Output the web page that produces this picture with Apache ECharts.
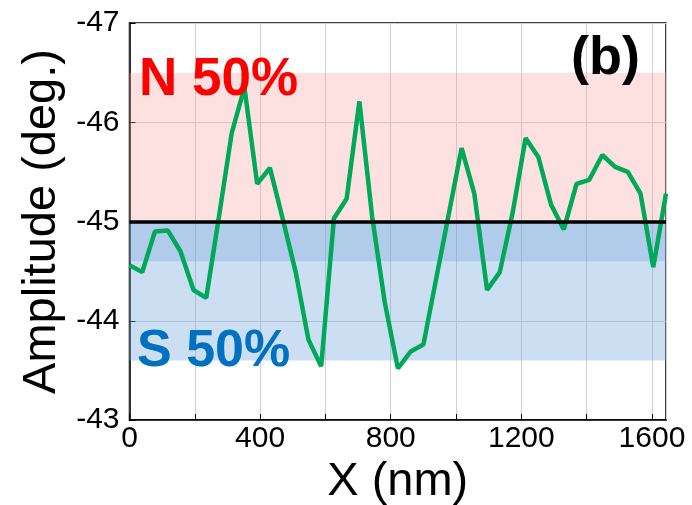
<!DOCTYPE html>
<html>
<head>
<meta charset="utf-8">
<script src="https://cdn.jsdelivr.net/npm/echarts@6/dist/echarts.min.js"></script>
<style>html,body{margin:0;padding:0;background:#fff;}#c{width:692px;height:505px;}</style>
</head>
<body>
<div id="c"></div>
<script>
var xValues = [0, 39, 78, 117, 156, 196, 235, 274, 313, 352, 391, 430, 469, 509, 548, 587, 626, 665, 704, 743, 782, 822, 861, 900, 939, 978, 1017, 1056, 1095, 1134, 1174, 1213, 1252, 1291, 1330, 1369, 1408, 1448, 1487, 1526, 1565, 1604, 1643];
var amplitude = [-44.56, -44.49, -44.90, -44.91, -44.70, -44.31, -44.23, -45.05, -45.89, -46.35, -45.38, -45.54, -45.03, -44.49, -43.81, -43.54, -45.03, -45.23, -46.21, -45.05, -44.18, -43.52, -43.69, -43.76, -44.42, -45.08, -45.74, -45.28, -44.31, -44.49, -45.10, -45.84, -45.65, -45.17, -44.92, -45.38, -45.42, -45.67, -45.55, -45.50, -45.28, -44.54, -45.28];
var nBand = [-46.5, -45];
var sBand = [-45, -43.6];
var sBandInner = [-45, -44.6];
var refLine = -45;
var xTicks = [0, 400, 800, 1200, 1600];

var pts = xValues.map(function (x, i) { return [x, amplitude[i]]; });
var FONT = 'Liberation Sans, Arial, sans-serif';

var chart = echarts.init(document.getElementById('c'), null, {renderer: 'canvas'});
chart.setOption({
  animation: false,
  grid: {left: 129.5, right: 26, top: 23, bottom: 85, show: true, borderColor: '#000', borderWidth: 1.5, backgroundColor: 'transparent', outerBoundsMode: 'none', containLabel: false},
  xAxis: {
    type: 'value', min: 0, max: 1643, interval: 200,
    name: 'X (nm)', nameLocation: 'middle', nameGap: 30,
    nameTextStyle: {fontSize: 47, color: '#000', fontFamily: FONT},
    axisLine: {show: true, lineStyle: {color: '#000', width: 1.5}},
    axisTick: {show: true, inside: true, length: 6, lineStyle: {color: '#000', width: 1}},
    axisLabel: {fontSize: 30, color: '#000', fontFamily: FONT, margin: 4, showMaxLabel: false,
      formatter: function (v) { return xTicks.indexOf(v) >= 0 ? String(v) : ''; }},
    splitLine: {show: true, lineStyle: {color: '#d0d0d0', width: 1}}
  },
  yAxis: {
    type: 'value', min: -47, max: -43, interval: 1, inverse: true,
    name: 'Amplitude (deg.)', nameLocation: 'middle', nameGap: 63, nameRotate: 90,
    nameTextStyle: {fontSize: 47, color: '#000', fontFamily: FONT},
    axisLine: {show: true, lineStyle: {color: '#000', width: 1.5}},
    axisTick: {show: true, inside: true, length: 6, lineStyle: {color: '#000', width: 1}},
    axisLabel: {fontSize: 30, color: '#000', fontFamily: FONT, margin: 10},
    splitLine: {show: true, lineStyle: {color: '#d0d0d0', width: 1}}
  },
  series: [
    {
      type: 'line', data: [], z: 1, silent: true,
      markArea: {silent: true, data: [
        [{yAxis: sBand[0], itemStyle: {color: 'rgba(120,170,220,0.38)'}}, {yAxis: sBand[1]}],
        [{yAxis: sBandInner[0], itemStyle: {color: 'rgba(100,150,210,0.27)'}}, {yAxis: sBandInner[1]}]
      ]}
    },
    {
      type: 'line', data: pts, z: 2, symbol: 'none', smooth: false,
      lineStyle: {color: '#00a85a', width: 4.5}
    },
    {
      type: 'line', data: [], z: 3, silent: true,
      markArea: {silent: true, data: [
        [{yAxis: nBand[0], itemStyle: {color: 'rgba(250,160,160,0.32)'}}, {yAxis: nBand[1]}]
      ]},
      markLine: {silent: true, symbol: 'none', label: {show: false},
        lineStyle: {color: '#000', width: 3.5, type: 'solid'},
        data: [{yAxis: refLine}]}
    }
  ],
  graphic: [
    {type: 'text', left: 139, top: 54, style: {text: 'N 50%', fontSize: 53, fontWeight: 'bold', fill: '#ff0000', fontFamily: FONT}, z: 10},
    {type: 'text', left: 137, top: 326, style: {text: 'S 50%', fontSize: 52, fontWeight: 'bold', fill: '#0070c0', fontFamily: FONT}, z: 10},
    {type: 'text', left: 571, top: 32, style: {text: '(b)', fontSize: 54, fontWeight: 'bold', fill: '#000', fontFamily: FONT}, z: 10}
  ]
});
</script>
</body>
</html>
